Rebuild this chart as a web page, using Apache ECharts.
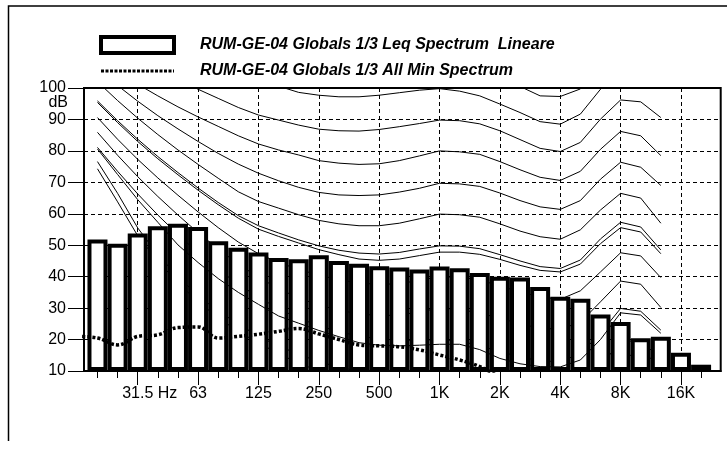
<!DOCTYPE html>
<html><head><meta charset="utf-8">
<script src="https://cdn.jsdelivr.net/npm/echarts@6/dist/echarts.min.js"></script>
<style>html,body{margin:0;padding:0;background:#fff}#c{width:727px;height:450px}</style>
</head><body><div id="c"></div>
<script>
// 1/3-octave band centres (index = x position on the axis)
const freqs = ['16','20','25','31.5','40','50','63','80','100','125','160','200','250','315','400','500','630','800','1K','1.25K','1.6K','2K','2.5K','3.15K','4K','5K','6.3K','8K','10K','12.5K','16K','20K'];
const tickLabels = ['31.5 Hz','63','125','250','500','1K','2K','4K','8K','16K'];
// Leq spectrum (dB), 16 Hz .. 20 kHz
const leq = [null,51.8,50.5,53.7,56.0,56.8,55.8,51.3,49.2,47.7,45.9,45.5,46.8,45.0,44.1,43.3,42.9,42.3,43.2,42.7,41.2,40.0,39.7,36.7,33.6,33.0,28.0,25.6,20.4,20.9,15.8,12.0];
// All Min spectrum (dB), 16 Hz .. 2 kHz
const minSpec = [21.0,20.5,18.3,21.0,21.5,23.8,24.0,20.5,21.0,21.7,22.6,23.5,21.8,20.0,18.3,18.0,17.7,16.7,15.1,13.5,11.4,8.0];
// Equal-loudness contours, 20 Hz .. 12.5 kHz
const c110 = [140,134,129,125,121,118,115,112.5,111,109.5,108.5,107.8,107.3,107.2,107.5,108,108.5,109,108.5,106.5,103.5,100.5,97.5,97.3,99.7,107,115,115,110];
const c100 = [122,118,115,112,109,107,105,103.3,102,100.6,98.6,97.7,97.2,97.2,97.7,98.5,99.3,99.8,99.0,97.5,94.9,92.2,89.3,88.5,91.7,99.6,106,105.5,100.8];
const c90 = [113,110.5,108,105.5,102.8,99.6,96.7,93.8,91.4,89.8,88.2,86.9,86.4,86.3,86.8,87.7,88.7,89.8,89.6,88.6,86.4,83.6,80.8,79.8,82.7,90.1,96.2,95.6,90.6];
const c80 = [109.5,105.2,101.2,97.5,94.0,90.8,87.8,84.8,82.2,80.3,78.7,76.9,76.1,75.7,75.9,76.9,78.4,80.0,79.7,78.9,76.6,74.0,71.6,70.6,73.5,80.5,86.2,84.8,78.5];
const c70 = [106,100.8,95.8,91.2,87.0,83.0,79.2,75.8,72.9,70.5,68.4,66.8,66.0,65.8,66.0,66.9,68.1,69.7,69.5,68.7,66.6,64.2,62.2,61.4,64.2,71.0,76.4,74.8,69.0];
const c60 = [102,96,90.4,85.2,80.3,75.7,71.3,67.0,63.9,61.8,59.7,57.9,56.8,56.2,56.2,57.0,58.4,59.9,59.7,58.9,56.8,54.5,52.7,51.9,54.9,61.2,66.5,65.0,57.0];
const c50 = [95.9,89.6,83.7,78.2,73.1,68.2,63.6,59.4,56.2,53.9,51.7,49.8,48.4,47.5,47.2,47.7,48.8,49.8,49.7,48.9,47.0,45.0,43.2,42.6,45.3,52.0,57.3,55.8,48.5];
const c48 = [95.4,89.0,83.0,77.5,72.4,67.5,62.9,58.6,55.1,52.8,50.7,48.6,47.0,45.6,45.2,45.6,46.7,47.8,47.8,47.1,45.5,43.6,42.0,41.5,44.0,50.5,55.6,54.2,47.3];
const c40 = [90.6,83.7,77.3,71.4,65.9,60.6,55.6,51.0,47.3,44.5,42.3,40.5,39.0,38.0,37.5,37.8,38.8,40.0,39.8,39.0,37.0,35.2,33.5,32.8,35.5,41.5,47.6,46.6,39.7];
const c30 = [85.9,78.6,71.8,65.5,59.6,54.0,48.8,44.0,39.8,36.2,33.2,31.0,29.3,28.2,27.6,27.8,28.8,30.0,29.6,28.4,26.8,25.0,23.6,23.3,25.5,32.0,38.6,37.6,30.2];
const c20 = [81.1,73.5,66.3,59.6,53.4,47.6,42.3,37.6,33.5,29.8,26.8,24.4,22.5,21.1,20.2,19.8,19.8,20.0,19.6,18.0,16.2,14.5,13.2,13.0,15.5,22.0,29.9,29.0,23.0];
const c10 = [76.6,66.5,55.5,47.0,40.0,34.0,29.0,25.0,21.0,18.0,15.3,13.0,11.2,10.0,9.2,8.8,8.8,9.0,8.5,7.0,5.5,4.0,2.8,2.5,5.0,11.5,19.5,19.5,14.0];
const cThr = [74.3,63.8,53.0,45.0,38.0,32.0,27.0,22.5,19.0,15.5,12.5,10.0,8.0,6.5,5.0,4.0,3.5,3.5,3.0,2.0,0.0,-2.0,-3.0,-3.0,0.0,6.0,14.0,16.0,12.0];
const cLow = [80.6,72.5,64.5,57.3,50.1,44.5,39.4,35.0,31.2,27.5,25.2,22.9,20.9,19.0,18.2,18.0,18.2,18.5,18.5,16.8,14.0,12.3,11.4,11.3,13.5,20.0,28.5,27.8,22.0];

const FONT = '"Liberation Sans", Arial, sans-serif';
const contourStart = freqs.indexOf('20');
const majorIdx = tickLabels.map(t => freqs.indexOf(t.replace(' Hz','')));
const minorIdx = [];
for (let i = contourStart; i < freqs.length; i++) minorIdx.push(i);
const X_MIN = 0.33, X_MAX = 31.975;
const NAME_LEQ = 'RUM-GE-04 Globals 1/3 Leq Spectrum  Lineare';
const NAME_MIN = 'RUM-GE-04 Globals 1/3 All Min Spectrum';

function contour(name, arr, z) {
  return {
    name, type: 'line', z, silent: true, symbol: 'none', clip: true,
    data: arr.map((v, k) => [k + contourStart, v]),
    lineStyle: { color: '#000', width: 1 }
  };
}

const series = [];
[c110,c100,c90,c80,c70,c60,c50,c48,c40,c30,c20,c10,cThr].forEach((a, n) => series.push(contour('iso' + n, a, 2)));
series.push({
  name: NAME_LEQ, type: 'bar', z: 3, clip: true,
  barWidth: 20,
  data: leq.map((v, i) => [i, v]).filter(d => d[1] != null),
  itemStyle: { color: '#fff', borderColor: '#000', borderWidth: 4 }
});
series.push(contour('isoLow', cLow, 4));
series.push({
  name: NAME_MIN, type: 'line', z: 5, silent: true,
  symbol: 'none', smooth: 0.4, clip: true,
  data: minSpec.map((v, i) => [i, v]),
  itemStyle: { color: '#000' },
  lineStyle: { color: '#000', width: 3.5, type: [3, 2] }
});

const chart = echarts.init(document.getElementById('c'), null, { renderer: 'canvas' });
chart.setOption({
  animation: false,
  backgroundColor: '#fff',
  textStyle: { fontFamily: FONT },
  legend: {
    orient: 'vertical', left: 99, top: 35, padding: 0, itemGap: 8,
    itemWidth: 73, itemHeight: 16, selectedMode: false,
    formatter: n => '{s| }' + n,
    textStyle: { fontFamily: FONT, fontSize: 16, fontWeight: 'bold', fontStyle: 'italic', color: '#000',
      rich: { s: { width: 21 } } },
    data: [
      { name: NAME_LEQ, icon: 'rect',
        itemStyle: { color: '#fff', borderColor: '#000', borderWidth: 4 } },
      { name: NAME_MIN,
        itemStyle: { color: 'rgba(0,0,0,0)', borderColor: 'rgba(0,0,0,0)', borderWidth: 0, opacity: 0 },
        lineStyle: { color: '#000', width: 3, type: [3, 1.5], opacity: 1 } }
    ]
  },
  grid: { left: 84, top: 88, width: 636.7, height: 283, show: true, borderColor: '#000', borderWidth: 2, containLabel: false },
  xAxis: [{
    type: 'value', min: X_MIN, max: X_MAX, position: 'bottom',
    axisLine: { show: true, onZero: false, lineStyle: { color: '#000', width: 2 } },
    axisTick: { show: true, length: 14, customValues: majorIdx, lineStyle: { color: '#000', width: 1 } },
    axisLabel: {
      show: true, customValues: majorIdx, margin: 15, color: '#000', fontSize: 16, fontFamily: FONT,
      formatter: v => { const j = majorIdx.indexOf(Math.round(v)); return j === 0 ? '{p| }' + tickLabels[j] : tickLabels[j]; },
      rich: { p: { width: 24 } }
    },
    splitLine: { show: true, lineStyle: { color: '#000', width: 1, type: [4, 3] } }
  }, {
    type: 'value', min: X_MIN, max: X_MAX, position: 'bottom',
    axisLine: { show: false },
    axisTick: { show: true, length: 7, customValues: minorIdx, lineStyle: { color: '#000', width: 1 } },
    axisLabel: { show: false },
    splitLine: { show: false }
  }],
  yAxis: {
    type: 'value', min: 10, max: 100, interval: 10, startValue: 10,
    axisLine: { show: true, onZero: false, lineStyle: { color: '#000', width: 2 } },
    axisTick: { show: true, length: 16, lineStyle: { color: '#000', width: 1 } },
    axisLabel: { margin: 18, color: '#000', fontSize: 16, fontFamily: FONT },
    splitLine: { show: true, lineStyle: { color: '#000', width: 1, type: [4, 3] } }
  },
  graphic: [
    { type: 'polyline', silent: true, shape: { points: [[727, 6], [8.5, 6], [8.5, 441]] },
      style: { stroke: '#000', lineWidth: 1.5, fill: null } },
    { type: 'text', silent: true, x: 68, y: 103,
      style: { text: 'dB', align: 'right', verticalAlign: 'middle', fontSize: 16, fontFamily: FONT, fill: '#000' } }
  ],
  series
});
</script></body></html>
